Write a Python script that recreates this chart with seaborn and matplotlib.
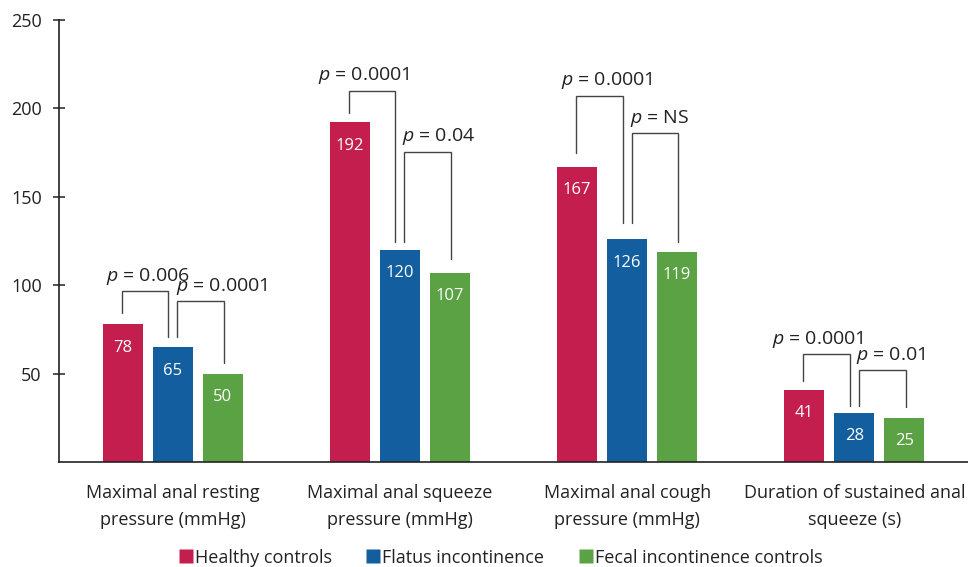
import matplotlib
matplotlib.use("Agg")
import matplotlib.pyplot as plt
import seaborn as sns
import pandas as pd
from matplotlib.lines import Line2D

# ---- data ----
categories = [
    "Maximal anal resting\npressure (mmHg)",
    "Maximal anal squeeze\npressure (mmHg)",
    "Maximal anal cough\npressure (mmHg)",
    "Duration of sustained anal\nsqueeze (s)",
]
groups = ["Healthy controls", "Flatus incontinence", "Fecal incontinence controls"]
healthy = [78, 192, 167, 41]
flatus = [65, 120, 126, 28]
fecal = [50, 107, 119, 25]
p_healthy_vs_flatus = ["0.006", "0.0001", "0.0001", "0.0001"]
p_flatus_vs_fecal = ["0.0001", "0.04", "NS", "0.01"]
y_ticks = [50, 100, 150, 200, 250]

# ---- bracket layout (annotation heights in data units) ----
br1_top = [96.9, 210.0, 207.2, 60.9]
br2_top = [91.1, 175.5, 185.9, 52.0]
leg_gap = [6.4, 5.6, 7.6, 4.8]     # left leg bottom above healthy bar
mid_gap = [5.7, 4.6, 9.0, 3.7]     # shared leg bottom above flatus bar
right_gap = [6.0, 7.8, 5.6, 6.3]   # right leg bottom above fecal bar
lab1_dx = [0.0, -0.05, 0.02, -0.05]
lab2_dx = [0.105, 0.058, 0.035, 0.05]

colors = ["#C41E4E", "#135E9E", "#5AA244"]

rows = []
for c, a, b, d in zip(categories, healthy, flatus, fecal):
    rows.append((c, groups[0], a))
    rows.append((c, groups[1], b))
    rows.append((c, groups[2], d))
df = pd.DataFrame(rows, columns=["category", "group", "value"])

sns.set_style("white")
plt.rcParams["font.family"] = ["Open Sans", "DejaVu Sans"]
plt.rcParams["mathtext.fontset"] = "custom"
plt.rcParams["mathtext.rm"] = "Open Sans"
plt.rcParams["mathtext.it"] = "Open Sans:italic"

fig = plt.figure(figsize=(9.68, 5.67), dpi=100)
ax = fig.add_axes([0.061, 0.185, 0.939, 0.78])

sns.barplot(data=df, x="category", y="value", hue="group", order=categories,
            hue_order=groups, palette=colors, width=0.66, gap=0.2,
            saturation=1, ax=ax, legend=False, edgecolor="none")

ax.set_xlim(-0.5, 3.5)
ax.set_ylim(0, 250)
ax.set_yticks(y_ticks)
ax.set_yticklabels([str(t) for t in y_ticks], fontsize=13, color="#222222")
ax.tick_params(axis="y", direction="inout", length=9, width=1.1, color="#222222", pad=8, left=True)
ax.tick_params(axis="x", length=0, pad=16, labelsize=13, labelcolor="#222222")
ax.set_xticks(range(len(categories)))
ax.set_xticklabels(categories, fontsize=13, linespacing=1.6)
for s in ["top", "right"]:
    ax.spines[s].set_visible(False)
for s in ["left", "bottom"]:
    ax.spines[s].set_color("#222222")
    ax.spines[s].set_linewidth(1.2)
ax.set_xlabel("")
ax.set_ylabel("")

# value labels inside bars
for cont in ax.containers:
    for patch in cont:
        h = patch.get_height()
        ax.annotate(f"{h:.0f}", (patch.get_x() + patch.get_width() / 2, h),
                    xytext=(0, -17), textcoords="offset points",
                    ha="center", va="center", color="white", fontsize=12)

# significance brackets
bc = "#444444"
for i in range(len(categories)):
    ph = ax.containers[0][i]
    pf = ax.containers[1][i]
    pc = ax.containers[2][i]
    xh = ph.get_x() + ph.get_width() / 2
    xf = pf.get_x() + pf.get_width() / 2
    xc = pc.get_x() + pc.get_width() / 2
    d = 0.02
    yl = healthy[i] + leg_gap[i]
    ym = flatus[i] + mid_gap[i]
    yr = fecal[i] + right_gap[i]
    ax.plot([xh - 0.005, xh - 0.005, xf - d, xf - d], [yl, br1_top[i], br1_top[i], ym],
            color=bc, lw=1.0, solid_joinstyle="miter")
    ax.plot([xf + d, xf + d, xc + 0.005, xc + 0.005], [ym, br2_top[i], br2_top[i], yr],
            color=bc, lw=1.0, solid_joinstyle="miter")
    ax.annotate(f"$p$ = {p_healthy_vs_flatus[i]}",
                ((xh + xf) / 2 + lab1_dx[i], br1_top[i]), xytext=(0, 3),
                textcoords="offset points", ha="center", va="bottom",
                fontsize=14, color="#222222")
    ax.annotate(f"$p$ = {p_flatus_vs_fecal[i]}",
                ((xf + xc) / 2 + lab2_dx[i], br2_top[i]), xytext=(0, 3),
                textcoords="offset points", ha="center", va="bottom",
                fontsize=14, color="#222222")

handles = [Line2D([], [], marker="s", linestyle="none", markersize=9.5,
                  markerfacecolor=c, markeredgecolor="none") for c in colors]
fig.legend(handles, groups, loc="lower center", bbox_to_anchor=(0.517, -0.028),
           ncol=3, frameon=False, fontsize=13, handletextpad=0.1,
           columnspacing=1.9, handlelength=0.8, labelcolor="#222222")

fig.savefig("out.png", dpi=100)
